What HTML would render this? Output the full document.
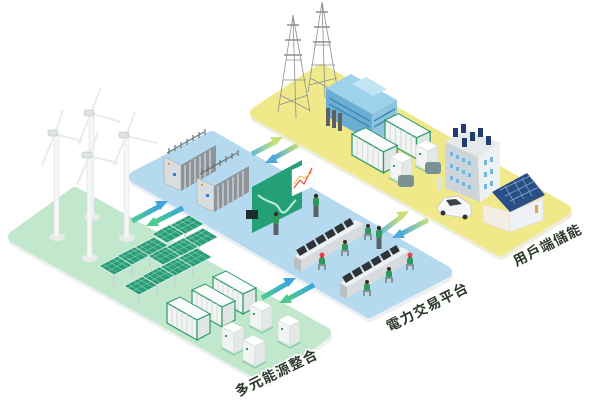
<!DOCTYPE html>
<html><head><meta charset="utf-8"><style>
html,body{margin:0;padding:0;background:#fff;width:600px;height:400px;overflow:hidden}
svg{display:block}
.lb{font-family:"Liberation Sans","Noto Sans CJK TC",sans-serif;font-weight:bold;font-size:14px;fill:#2c3a2e;stroke:#fff;stroke-width:3;paint-order:stroke;letter-spacing:1px}
</style></head><body>
<svg width="600" height="400" viewBox="0 0 600 400" xmlns="http://www.w3.org/2000/svg">
<defs>
<linearGradient id="ga" x1="0" y1="0" x2="1" y2="0"><stop offset="0" stop-color="#4cc98f"/><stop offset="1" stop-color="#3aa6dd"/></linearGradient>
<linearGradient id="gb" x1="1" y1="0" x2="0" y2="0"><stop offset="0" stop-color="#3aa6dd"/><stop offset="1" stop-color="#4cc98f"/></linearGradient>
<linearGradient id="gc" x1="0" y1="0" x2="1" y2="0"><stop offset="0" stop-color="#5fb9d8"/><stop offset="1" stop-color="#c8e07a"/></linearGradient>
<linearGradient id="gd" x1="1" y1="0" x2="0" y2="0"><stop offset="0" stop-color="#c8e07a"/><stop offset="1" stop-color="#4fa9dc"/></linearGradient>
<g id="cont">
<polygon points="0,0 13,-6 43,11 30,17" fill="#fafcfb" stroke="#2e9a6a" stroke-width="1"/>
<polygon points="0,0 30,17 30,37 0,20" fill="#f1f4f2" stroke="#2e9a6a" stroke-width="1.2"/>
<polygon points="30,17 43,11 43,30 30,37" fill="#e0e6e3" stroke="#2e9a6a" stroke-width="1.2"/>
<path d="M5,3v19M10,6v19M15,9v19M20,11v19M25,14v19" stroke="#d4dbd7" stroke-width="1"/>
</g>
<g id="cab">
<polygon points="0,0 10,-5 22,1 12,6" fill="#fff" stroke="#cfd8d3" stroke-width=".6"/>
<polygon points="0,0 12,6 12,26 0,20" fill="#f2f4f3" stroke="#cfd8d3" stroke-width=".6"/>
<polygon points="12,6 22,1 22,21 12,26" fill="#e4e8e6" stroke="#cfd8d3" stroke-width=".6"/>
<rect x="3" y="8" width="2" height="2" fill="#2e9a6a"/>
<path d="M-1,21 L12,28 L23,22" stroke="#7cc9a0" stroke-width="1" fill="none"/>
</g>
<g id="pan">
<polygon points="0,10 19,0 34,9 15,19" fill="#2a9c78" stroke="#e8f5ee" stroke-width=".8"/>
<path d="M4,8 L19,17 M9,5 L24,14 M14,3 L29,11 M4,12 L23,2 M9,15 L28,5" stroke="#7fd0b0" stroke-width=".6"/>
<path d="M15,19 v10" stroke="#c8d2cd" stroke-width="1.5"/>
</g>
<g id="rack">
<polygon points="0,0 15,-8 50,-28 35,-20" fill="#bfc5c9"/>
<polygon points="0,0 17,8 17,34 0,26" fill="#d9dde0" stroke="#9aa2a7" stroke-width=".5"/>
<polygon points="17,8 52,-12 52,14 17,34" fill="#8d959b"/>
<path d="M21,8v24M26,5v24M31,2v24M36,-1v24M41,-4v24M46,-7v24" stroke="#c8cdd1" stroke-width="1.5"/>
<path d="M3,-4 L40,-25 M5,-9 v6 M11,-12 v6 M17,-15 v6 M23,-18 v6 M29,-22 v6 M35,-25 v6 M41,-28 v6" stroke="#6b7378" stroke-width="1.2"/>
<rect x="9" y="16" width="3" height="3" fill="#3d7ed8"/>
<rect x="4" y="6" width="2" height="2" fill="#e09a3a"/>
</g>
<g id="desk">
<polygon points="0,0 62,-36 69,-32 7,4" fill="#eef0f1"/>
<polygon points="0,0 7,4 7,16 0,12" fill="#b9bfc3"/>
<polygon points="7,4 69,-32 69,-21 7,15" fill="#d7dbde"/>
<path d="M4,-3 L58,-35" stroke="#2e3438" stroke-width="7" stroke-dasharray="9 2"/>
</g>
<g id="ppl">
<circle cx="0" cy="-12" r="2.2" fill="#3a2a22"/>
<rect x="-3" y="-10" width="6" height="8" rx="1.5" fill="#2e9a5a"/>
<rect x="-2.5" y="-2" width="5" height="11" fill="#5a6165"/>
</g>
<g id="sit">
<circle cx="0" cy="-8" r="2" fill="#3a2a22"/>
<rect x="-3" y="-6" width="6" height="7" rx="1.5" fill="#2e9a5a"/>
<path d="M-4,1 h8 M-3,1 v5 M3,1 v5" stroke="#8b9296" stroke-width="2"/>
</g>
</defs>

<g stroke-linejoin="round">
<polygon points="15,241 77,197 326,337 267,381" fill="#eef0ef" stroke="#eef0ef" stroke-width="12"/>
<polygon points="14,237 75,193 325,333 265,377" fill="#c1e7cd" stroke="#c1e7cd" stroke-width="12"/>
<polygon points="136,181 213,141 447,276 370,316" fill="#edf0f2" stroke="#edf0f2" stroke-width="12"/>
<polygon points="135,177 212,137 446,272 369,312" fill="#b5daf0" stroke="#b5daf0" stroke-width="12"/>
<polygon points="257,117 322,74 566,214 501,254" fill="#eeeede" stroke="#eeeede" stroke-width="12"/>
<polygon points="256,113 321,70 565,210 500,250" fill="#efe98a" stroke="#efe98a" stroke-width="12"/>
</g>

<g stroke-width="5" fill="none">
<path d="M132,221 L160,206" stroke="url(#ga)"/><polygon points="168,201 155,201 160,210" fill="#3aa6dd"/>
<path d="M183,208 L155,222" stroke="url(#gb)"/><polygon points="146,226 159,226 154,217" fill="#4cc98f"/>
<path d="M262,298 L288,283" stroke="url(#ga)"/><polygon points="296,278 283,278 288,287" fill="#3aa6dd"/>
<path d="M314,285 L288,299" stroke="url(#gb)"/><polygon points="279,303 292,303 287,294" fill="#4cc98f"/>
<path d="M252,154 L275,142" stroke="url(#gc)"/><polygon points="283,137 270,137 275,146" fill="#c8e07a"/>
<path d="M298,145 L274,158" stroke="url(#gd)"/><polygon points="265,163 278,163 273,154" fill="#4fa9dc"/>
<path d="M380,233 L401,217" stroke="url(#gc)"/><polygon points="409,211 396,212 402,220" fill="#c8e07a"/>
<path d="M428,220 L401,234" stroke="url(#gd)"/><polygon points="392,238 405,238 400,229" fill="#4fa9dc"/>
</g>

<g>
<ellipse cx="57" cy="237" rx="8" ry="4" fill="#e6ece8"/>
<ellipse cx="92" cy="217" rx="8" ry="4" fill="#e6ece8"/>
<ellipse cx="127" cy="238" rx="8" ry="4" fill="#e6ece8"/>
<ellipse cx="90" cy="258" rx="8" ry="4" fill="#e6ece8"/>
<rect x="54" y="135" width="5" height="102" fill="#f5f6f6" stroke="#dfe2e1" stroke-width=".6"/>
<rect x="89" y="115" width="5" height="102" fill="#f5f6f6" stroke="#dfe2e1" stroke-width=".6"/>
<rect x="124" y="137" width="5" height="101" fill="#f5f6f6" stroke="#dfe2e1" stroke-width=".6"/>
<rect x="87" y="157" width="5" height="101" fill="#f5f6f6" stroke="#dfe2e1" stroke-width=".6"/>
<g stroke="#e9ecec" stroke-width="2" fill="none">
<path d="M55,134 L63,110 M55,134 L82,141 M55,134 L42,165"/>
<path d="M91,113 L101,87 M91,113 L120,122 M91,113 L78,145"/>
<path d="M126,136 L135,112 M126,136 L157,143 M126,136 L114,165"/>
<path d="M89,156 L98,132 M89,156 L118,163 M89,156 L77,185"/>
</g>
<g fill="#dfe3e3" stroke="#b5bbbb" stroke-width=".6">
<rect x="48" y="130" width="10" height="6" rx="2"/>
<rect x="84" y="110" width="10" height="6" rx="2"/>
<rect x="119" y="132" width="10" height="6" rx="2"/>
<rect x="82" y="152" width="10" height="6" rx="2"/>
</g>
</g>

<use href="#pan" x="152" y="224"/><use href="#pan" x="170" y="215"/>
<use href="#pan" x="99" y="256"/><use href="#pan" x="117" y="246"/><use href="#pan" x="135" y="237"/>
<use href="#pan" x="148" y="246"/><use href="#pan" x="166" y="237"/><use href="#pan" x="184" y="228"/>
<use href="#pan" x="124" y="276"/><use href="#pan" x="142" y="266"/><use href="#pan" x="160" y="257"/><use href="#pan" x="178" y="248"/>

<use href="#cont" x="213" y="277"/>
<use href="#cont" x="192" y="290"/>
<use href="#cont" x="167" y="303"/>
<use href="#cab" x="250" y="305"/>
<use href="#cab" x="278" y="320"/>
<use href="#cab" x="222" y="327"/>
<use href="#cab" x="243" y="340"/>

<use href="#rack" x="164" y="157"/>
<use href="#rack" x="197" y="178"/>

<polygon points="252,187 302,160 302,208 252,233" fill="#23a077"/>
<path d="M258,195 C270,205 275,200 280,210 C285,218 290,205 296,200" stroke="#bff0dc" stroke-width="2" fill="none"/>
<polygon points="292,170 314,160 314,186 292,196" fill="#fff" stroke="#e3e3e3" stroke-width=".5"/>
<path d="M294,188 L300,180 L304,184 L312,168" stroke="#e8483b" stroke-width="1.2" fill="none"/>
<path d="M294,184 L300,176 L305,178 L312,172" stroke="#f0b030" stroke-width="1" fill="none"/>
<rect x="246" y="210" width="12" height="9" fill="#1f2a2c"/>
<use href="#ppl" x="276" y="226"/>
<use href="#ppl" x="316" y="208"/>
<use href="#ppl" x="379" y="240"/>

<use href="#desk" x="294" y="256"/>
<use href="#desk" x="340" y="283"/>
<use href="#sit" x="322" y="264"/><use href="#sit" x="345" y="250"/><use href="#sit" x="368" y="234"/>
<use href="#sit" x="367" y="290"/><use href="#sit" x="389" y="277"/><use href="#sit" x="410" y="264"/>
<circle cx="322" cy="255" r="2.5" fill="#e8404a"/><circle cx="410" cy="255" r="2.5" fill="#e8404a"/>

<g stroke="#8b9094" stroke-width=".8" fill="none">
<path d="M293,15 L278,112 M293,15 L310,112 M293,15 L296,118 M283,80 L306,80 M286,60 L302,60 M279,105 L308,95 M280,95 L309,110"/>
<path d="M287,25 h12 M285,40 h16 M284,55 h18" stroke-width="1.5"/>
<path d="M322,2 L308,92 M322,2 L338,92 M322,2 L325,98 M311,65 L335,65 M314,45 L331,45 M309,85 L337,78 M310,78 L336,92"/>
<path d="M316,12 h12 M314,27 h16 M313,42 h18" stroke-width="1.5"/>
</g>

<polygon points="326,88 351,74 397,100 372,114" fill="#9ed2ea"/>
<polygon points="326,88 372,114 372,142 326,116" fill="#6aaed3"/>
<polygon points="372,114 397,100 397,128 372,142" fill="#8ec3df"/>
<polygon points="352,84 366,77 387,89 373,96" fill="#c3e4f3"/>
<path d="M329,98 L370,121 M329,104 L370,127 M374,121 L395,109 M374,127 L395,115" stroke="#3e88b4" stroke-width="1.5"/>
<rect x="326" y="108" width="4" height="18" fill="#5d6166"/><rect x="332" y="110" width="4" height="18" fill="#5d6166"/><rect x="338" y="113" width="4" height="18" fill="#5d6166"/>

<use href="#cont" x="385" y="120" transform="translate(385,120) scale(1.05) translate(-385,-120)"/>
<use href="#cont" x="352" y="134" transform="translate(352,134) scale(1.05) translate(-352,-134)"/>
<use href="#cab" x="390" y="157"/>
<use href="#cab" x="416" y="145"/>
<g fill="#7b9294"><rect x="398" y="175" width="16" height="12" rx="3"/><rect x="425" y="162" width="16" height="12" rx="3"/></g>

<polygon points="445,142 467,130 500,143 478,157" fill="#e5e9ec"/>
<polygon points="445,142 478,157 480,202 445,188" fill="#cdd4da"/>
<polygon points="478,157 500,143 500,188 480,202" fill="#eef1f3"/>
<g fill="#6fb8e0">
<rect x="450" y="152" width="3" height="4"/><rect x="456" y="155" width="3" height="4"/><rect x="462" y="158" width="3" height="4"/><rect x="468" y="161" width="3" height="4"/>
<rect x="450" y="164" width="3" height="4"/><rect x="456" y="167" width="3" height="4"/><rect x="462" y="170" width="3" height="4"/><rect x="468" y="173" width="3" height="4"/>
<rect x="450" y="176" width="3" height="4"/><rect x="456" y="179" width="3" height="4"/><rect x="462" y="182" width="3" height="4"/><rect x="468" y="185" width="3" height="4"/>
<rect x="484" y="160" width="3" height="5"/><rect x="490" y="157" width="3" height="5"/><rect x="484" y="172" width="3" height="5"/><rect x="490" y="169" width="3" height="5"/><rect x="484" y="184" width="3" height="5"/><rect x="490" y="181" width="3" height="5"/>
</g>
<g fill="#1f3d6e"><rect x="453" y="128" width="5" height="9"/><rect x="461" y="124" width="5" height="9"/><rect x="470" y="132" width="5" height="9"/><rect x="478" y="128" width="5" height="9"/><rect x="486" y="136" width="5" height="9"/><rect x="462" y="138" width="5" height="9"/></g>

<path d="M437,208 L444,198 L458,196 L470,204 L472,214 L466,218 L440,214 Z" fill="#f6f7f8" stroke="#c5cacd" stroke-width=".8"/>
<path d="M446,200 L456,199 L462,204 L450,206 Z" fill="#3b4247"/>
<circle cx="443" cy="213" r="2.5" fill="#333"/><circle cx="465" cy="217" r="2.5" fill="#333"/>
<rect x="437" y="178" width="4" height="12" fill="#dde3e6"/>

<polygon points="483,205 510,212 510,232 483,222" fill="#f3ede6" stroke="#ddd" stroke-width=".5"/>
<polygon points="510,212 543,198 543,220 510,232" fill="#eef1f5" stroke="#ddd" stroke-width=".5"/>
<polygon points="492,192 527,173 545,195 510,212" fill="#2a4f86"/>
<path d="M500,190 L530,176 M505,196 L535,181 M510,201 L539,187 M505,186 L515,204 M514,181 L524,199 M522,178 L532,196" stroke="#8bb0d8" stroke-width=".7"/>
<rect x="535" y="205" width="3" height="8" fill="#f0a040"/>

<text class="lb" transform="translate(277,374) rotate(-26)" text-anchor="middle" dominant-baseline="middle">多元能源整合</text>
<text class="lb" transform="translate(428,308) rotate(-27)" text-anchor="middle" dominant-baseline="middle">電力交易平台</text>
<text class="lb" transform="translate(548,246) rotate(-27)" text-anchor="middle" dominant-baseline="middle">用戶端儲能</text>
</svg>
</body></html>
